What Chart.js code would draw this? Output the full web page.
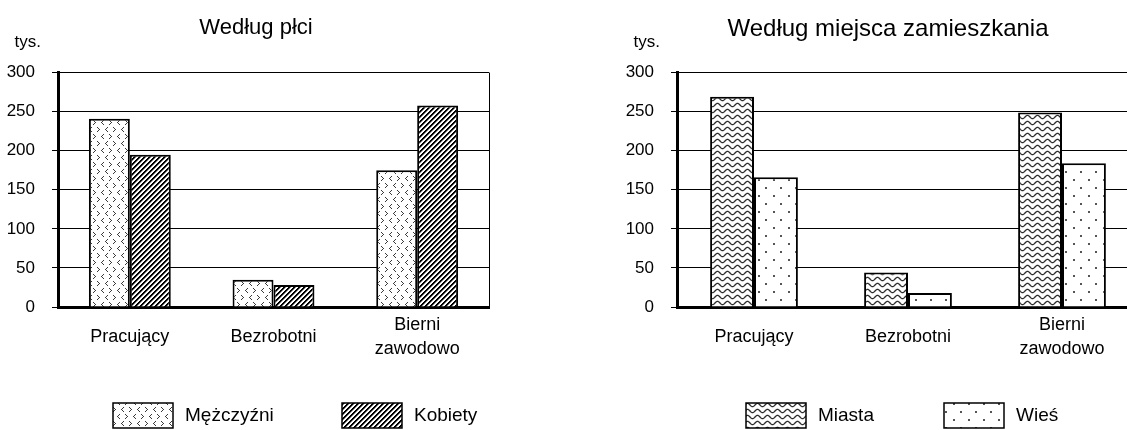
<!DOCTYPE html>
<html>
<head>
    <meta charset="utf-8">
    <script src="https://cdn.jsdelivr.net/npm/chart.js"></script>
    <title>Według płci / miejsca zamieszkania</title>
    <style>
        html, body { margin: 0; padding: 0; overflow: hidden; background: #fff; }
        .box { position: absolute; top: 0; height: 430px; }
    </style>
</head>
<body>
    <div class="box" style="left:0; width:512px;"><canvas id="plecChart"></canvas></div>
    <div class="box" style="left:560px; width:656px;"><canvas id="miejsceChart"></canvas></div>

    <script>
        const categories = ['Pracujący', 'Bezrobotni', ['Bierni', 'zawodowo']];
        const yTicks = [0, 50, 100, 150, 200, 250, 300];

        const mezczyzni = [241, 35, 175];
        const kobiety = [195, 28, 258];
        const miasta = [269, 44, 249];
        const wies = [166, 18, 184];

        const fontFamily = '"Liberation Sans", Arial, sans-serif';
        Chart.defaults.font.family = fontFamily;
        Chart.defaults.color = '#000';

        function makePattern(w, h, draw) {
            const c = document.createElement('canvas');
            c.width = w;
            c.height = h;
            const g = c.getContext('2d');
            g.fillStyle = '#fff';
            g.fillRect(0, 0, w, h);
            draw(g);
            return g.createPattern(c, 'repeat');
        }

        // small < > marks
        const chevrons = makePattern(16, 14, g => {
            g.fillStyle = '#3a3a3a';
            const right = (x, y) => {
                g.fillRect(x, y, 1, 1); g.fillRect(x + 1, y + 1, 1, 1); g.fillRect(x + 2, y + 2, 1, 1);
                g.fillRect(x + 1, y + 3, 1, 1); g.fillRect(x, y + 4, 1, 1);
            };
            const left = (x, y) => {
                g.fillRect(x + 2, y, 1, 1); g.fillRect(x + 1, y + 1, 1, 1); g.fillRect(x, y + 2, 1, 1);
                g.fillRect(x + 1, y + 3, 1, 1); g.fillRect(x + 2, y + 4, 1, 1);
            };
            right(1, 1); left(9, 1);
            left(5, 8); right(13, 8);
        });

        // dense diagonal stripes
        const stripes = makePattern(5, 5, g => {
            for (let x = 0; x < 5; x++) {
                for (let y = 0; y < 5; y++) {
                    const k = (x + y) % 5;
                    if (k < 2) { g.fillStyle = '#000'; g.fillRect(x, y, 1, 1); }
                    else if (k === 2) { g.fillStyle = '#888'; g.fillRect(x, y, 1, 1); }
                }
            }
        });

        // wavy lines
        const waves = makePattern(10, 6, g => {
            g.strokeStyle = '#2a2a2a';
            g.lineWidth = 1.3;
            g.beginPath();
            for (let x = -1; x <= 11; x += 0.5) {
                const y = 3 + 1.6 * Math.sin(2 * Math.PI * x / 10);
                if (x === -1) g.moveTo(x, y); else g.lineTo(x, y);
            }
            g.stroke();
        });

        // sparse dots
        const dots = makePattern(15, 16, g => {
            g.fillStyle = '#555';
            g.fillRect(3, 3, 2, 2);
            g.fillRect(10, 11, 2, 2);
        });

        // "tys." above the value axis
        const tysPlugin = {
            id: 'tys',
            afterDraw(chart) {
                const ctx = chart.ctx;
                const area = chart.chartArea;
                ctx.save();
                ctx.font = '17px ' + fontFamily;
                ctx.fillStyle = '#000';
                ctx.textAlign = 'right';
                ctx.textBaseline = 'middle';
                ctx.fillText('tys.', area.left - 17, area.top - 30);
                ctx.restore();
            }
        };

        // legend under the chart, one box + label per dataset
        const boxLegend = {
            id: 'boxLegend',
            afterDraw(chart, args, opts) {
                const ctx = chart.ctx;
                ctx.save();
                ctx.font = '19px ' + fontFamily;
                ctx.textAlign = 'left';
                ctx.textBaseline = 'middle';
                chart.data.datasets.forEach((ds, i) => {
                    const x = opts.x[i];
                    ctx.fillStyle = ds.backgroundColor;
                    ctx.fillRect(x, opts.y, 60, 25);
                    ctx.lineWidth = 1.5;
                    ctx.strokeStyle = '#000';
                    ctx.strokeRect(x, opts.y, 60, 25);
                    ctx.fillStyle = '#000';
                    ctx.fillText(ds.label, x + 72, opts.y + 13);
                });
                ctx.restore();
            }
        };

        function drawChart(id, title, titleSize, sets, yWidth, rightGap, legendX) {
            const ctx = document.getElementById(id).getContext('2d');
            return new Chart(ctx, {
                type: 'bar',
                data: {
                    labels: categories,
                    datasets: sets.map(s => ({
                        label: s.label,
                        data: s.data,
                        backgroundColor: s.fill,
                        borderColor: '#000',
                        borderWidth: 2,
                        categoryPercentage: 0.57,
                        barPercentage: 1.0
                    }))
                },
                options: {
                    responsive: true,
                    maintainAspectRatio: false,
                    animation: false,
                    layout: {
                        padding: { left: 0, right: 0, top: 0, bottom: 63 }
                    },
                    plugins: {
                        title: {
                            display: true,
                            text: title,
                            color: '#000',
                            font: { size: titleSize, weight: 'normal', lineHeight: 1.2 },
                            padding: { top: 15, bottom: 72.6 - 15 - titleSize * 1.2 }
                        },
                        legend: { display: false },
                        tooltip: { enabled: false },
                        boxLegend: { x: legendX, y: 403 }
                    },
                    scales: {
                        x: {
                            grid: {
                                display: true,
                                drawTicks: false,
                                lineWidth: 1,
                                color: c => c.type === 'scale' ? '#000' : 'rgba(0,0,0,0)'
                            },
                            border: { display: true, color: '#000', width: 3 },
                            ticks: {
                                color: '#000',
                                font: { size: 18, lineHeight: 1.333 },
                                padding: 18,
                                maxRotation: 0,
                                autoSkip: false,
                                crossAlign: 'center'
                            },
                            afterFit: s => { s.height = 60; }
                        },
                        y: {
                            min: yTicks[0],
                            max: yTicks[yTicks.length - 1],
                            afterBuildTicks: s => { s.ticks = yTicks.map(v => ({ value: v })); },
                            grid: { color: '#000', lineWidth: 1, tickLength: 6, drawTicks: true },
                            border: { display: true, color: '#000', width: 3 },
                            ticks: { color: '#000', font: { size: 17 }, padding: 17 },
                            afterFit: s => { s.width = yWidth; }
                        },
                        gap: {
                            type: 'linear',
                            position: 'right',
                            display: true,
                            grid: { display: false },
                            border: { display: false },
                            ticks: { display: false },
                            afterFit: s => { s.width = rightGap; }
                        }
                    }
                },
                plugins: [tysPlugin, boxLegend]
            });
        }

        drawChart('plecChart', 'Według płci', 22, [
            { label: 'Mężczyźni', data: mezczyzni, fill: chevrons },
            { label: 'Kobiety', data: kobiety, fill: stripes }
        ], 58, 23, [113, 342]);

        drawChart('miejsceChart', 'Według miejsca zamieszkania', 24, [
            { label: 'Miasta', data: miasta, fill: waves },
            { label: 'Wieś', data: wies, fill: dots }
        ], 117, 77, [186, 384]);
    </script>
</body>
</html>
